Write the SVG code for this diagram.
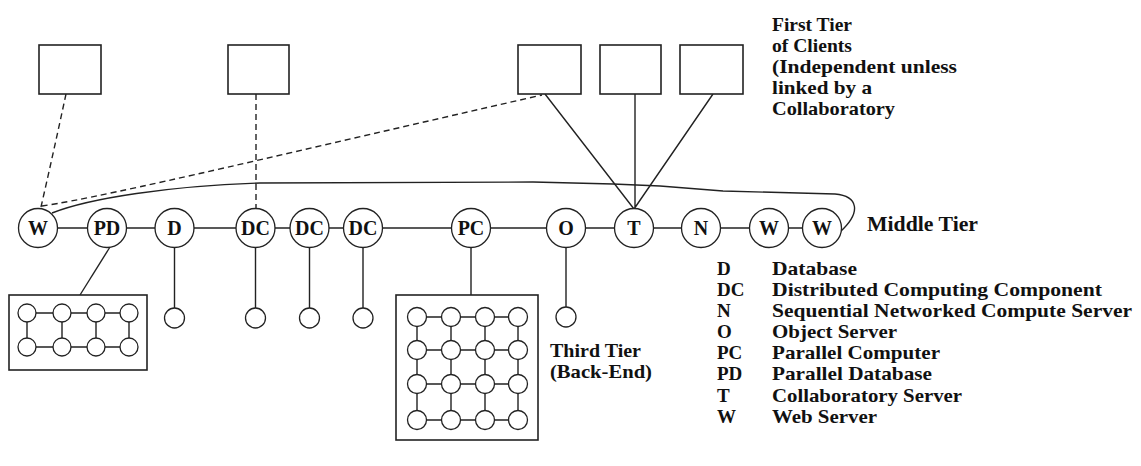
<svg xmlns="http://www.w3.org/2000/svg" width="1141" height="466" viewBox="0 0 1141 466">
<style>
.ln{stroke:#222;stroke-width:1.4;fill:none}
.dash{stroke:#222;stroke-width:1.4;fill:none;stroke-dasharray:6 4}
.box{stroke:#222;stroke-width:1.6;fill:#fff}
.nd{stroke:#222;stroke-width:1.3;fill:#fff}
.sm{stroke:#222;stroke-width:1.3;fill:#fff}
.t{font-family:"Liberation Serif","Times New Roman",serif;font-weight:bold;font-size:19px;fill:#111}
.big{font-size:21px}
.nl{font-family:"Liberation Serif","Times New Roman",serif;font-weight:bold;font-size:20px;fill:#111;text-anchor:middle}
</style>
<rect width="1141" height="466" fill="#fff"/>
<g id="connectors">
<line class="ln" x1="38" y1="228" x2="822" y2="228"/>
<path class="dash" d="M66,94 Q54,150 41,207"/>
<path class="dash" d="M256,94 L256,209"/>
<path class="dash" d="M42,206 C110,196 300,150 542,95"/>
<path class="ln" d="M52,213 C90,198 170,186 260,183 L533,182 L613,184 L660,186 L723,191 L835,194 C858,196 862,212 840,232"/>
<path class="ln" d="M545,94 L634,209 M635,94 L635,209 M713,94 L634,209"/>
<path class="ln" d="M110,247 L80,295"/>
<path class="ln" d="M174.5,248 V308 M255.5,248 V308 M309.5,248 V308 M363,248 V308 M566,248 V307 M471,248 V295"/>
</g>
<g id="client1"><rect class="box" x="39" y="45" width="62" height="49"/></g>
<g id="client2"><rect class="box" x="228" y="45" width="61" height="49"/></g>
<g id="client3"><rect class="box" x="518" y="45" width="63" height="49"/></g>
<g id="client4"><rect class="box" x="600" y="45" width="61" height="49"/></g>
<g id="client5"><rect class="box" x="680" y="45" width="63" height="49"/></g>
<g id="node-W1"><circle class="nd" cx="38" cy="228" r="19.5"/><text class="nl" x="38" y="235">W</text></g>
<g id="node-PD"><circle class="nd" cx="107" cy="228" r="19.5"/><text class="nl" x="107" y="235">PD</text></g>
<g id="node-D"><circle class="nd" cx="174.5" cy="228" r="19.5"/><text class="nl" x="174.5" y="235">D</text></g>
<g id="node-DC1"><circle class="nd" cx="255.5" cy="228" r="19.5"/><text class="nl" x="255.5" y="235">DC</text></g>
<g id="node-DC2"><circle class="nd" cx="309.5" cy="228" r="19.5"/><text class="nl" x="309.5" y="235">DC</text></g>
<g id="node-DC3"><circle class="nd" cx="363" cy="228" r="19.5"/><text class="nl" x="363" y="235">DC</text></g>
<g id="node-PC"><circle class="nd" cx="471" cy="228" r="19.5"/><text class="nl" x="471" y="235">PC</text></g>
<g id="node-O"><circle class="nd" cx="566" cy="228" r="19.5"/><text class="nl" x="566" y="235">O</text></g>
<g id="node-T"><circle class="nd" cx="634" cy="228" r="19.5"/><text class="nl" x="634" y="235">T</text></g>
<g id="node-N"><circle class="nd" cx="701" cy="228" r="19.5"/><text class="nl" x="701" y="235">N</text></g>
<g id="node-W2"><circle class="nd" cx="769" cy="228" r="19.5"/><text class="nl" x="769" y="235">W</text></g>
<g id="node-W3"><circle class="nd" cx="822" cy="228" r="19.5"/><text class="nl" x="822" y="235">W</text></g>
<g id="backend-D"><circle class="sm" cx="174.5" cy="318" r="10"/></g>
<g id="backend-DC1"><circle class="sm" cx="255.5" cy="318" r="10"/></g>
<g id="backend-DC2"><circle class="sm" cx="309.5" cy="318" r="10"/></g>
<g id="backend-DC3"><circle class="sm" cx="363" cy="318" r="10"/></g>
<g id="backend-O"><circle class="sm" cx="566" cy="317" r="10"/></g>
<g id="backend-PD">
<rect class="box" x="9" y="295" width="138" height="75"/>
<path class="ln" d="M27,313 H129 M27,347 H129 M27,313 V347 M62,313 V347 M96,313 V347 M129,313 V347"/>
<g class="sm">
<circle cx="27" cy="313" r="9"/><circle cx="62" cy="313" r="9"/><circle cx="96" cy="313" r="9"/><circle cx="129" cy="313" r="9"/>
<circle cx="27" cy="347" r="9"/><circle cx="62" cy="347" r="9"/><circle cx="96" cy="347" r="9"/><circle cx="129" cy="347" r="9"/>
</g>
</g>
<g id="backend-PC">
<rect class="box" x="396" y="295" width="142" height="145"/>
<path class="ln" d="M417,317 H518 M417,350 H518 M417,384 H518 M417,420 H518 M417,317 V420 M451,317 V420 M485,317 V420 M518,317 V420"/>
<g class="sm">
<circle cx="417" cy="317" r="9.5"/><circle cx="451" cy="317" r="9.5"/><circle cx="485" cy="317" r="9.5"/><circle cx="518" cy="317" r="9.5"/>
<circle cx="417" cy="350" r="9.5"/><circle cx="451" cy="350" r="9.5"/><circle cx="485" cy="350" r="9.5"/><circle cx="518" cy="350" r="9.5"/>
<circle cx="417" cy="384" r="9.5"/><circle cx="451" cy="384" r="9.5"/><circle cx="485" cy="384" r="9.5"/><circle cx="518" cy="384" r="9.5"/>
<circle cx="417" cy="420" r="9.5"/><circle cx="451" cy="420" r="9.5"/><circle cx="485" cy="420" r="9.5"/><circle cx="518" cy="420" r="9.5"/>
</g>
</g>
<g id="label-first-tier" class="t">
<text x="772" y="31" textLength="80" lengthAdjust="spacingAndGlyphs">First Tier</text>
<text x="772" y="52" textLength="80" lengthAdjust="spacingAndGlyphs">of Clients</text>
<text x="772" y="73" textLength="185" lengthAdjust="spacingAndGlyphs">(Independent unless</text>
<text x="772" y="94" textLength="100" lengthAdjust="spacingAndGlyphs">linked by a</text>
<text x="772" y="115" textLength="123" lengthAdjust="spacingAndGlyphs">Collaboratory</text>
</g>
<g id="label-middle-tier"><text class="t big" x="867" y="231" textLength="111" lengthAdjust="spacingAndGlyphs">Middle Tier</text></g>
<g id="label-third-tier" class="t">
<text x="550" y="357" textLength="91" lengthAdjust="spacingAndGlyphs">Third Tier</text>
<text x="550" y="378" textLength="102" lengthAdjust="spacingAndGlyphs">(Back-End)</text>
</g>
<g id="legend" class="t">
<text x="717" y="275">D</text><text x="772" y="275" textLength="85" lengthAdjust="spacingAndGlyphs">Database</text>
<text x="717" y="296">DC</text><text x="772" y="296" textLength="330" lengthAdjust="spacingAndGlyphs">Distributed Computing Component</text>
<text x="717" y="317">N</text><text x="772" y="317" textLength="360" lengthAdjust="spacingAndGlyphs">Sequential Networked Compute Server</text>
<text x="717" y="338">O</text><text x="772" y="338" textLength="125" lengthAdjust="spacingAndGlyphs">Object Server</text>
<text x="717" y="359">PC</text><text x="772" y="359" textLength="168" lengthAdjust="spacingAndGlyphs">Parallel Computer</text>
<text x="717" y="380">PD</text><text x="772" y="380" textLength="160" lengthAdjust="spacingAndGlyphs">Parallel Database</text>
<text x="717" y="402">T</text><text x="772" y="402" textLength="190" lengthAdjust="spacingAndGlyphs">Collaboratory Server</text>
<text x="717" y="423">W</text><text x="772" y="423" textLength="105" lengthAdjust="spacingAndGlyphs">Web Server</text>
</g>
</svg>
